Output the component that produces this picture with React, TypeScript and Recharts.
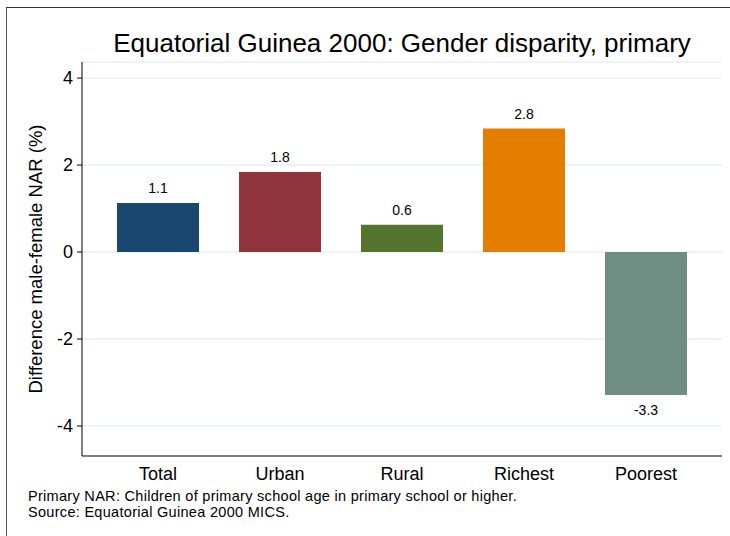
import React from "react";
import { BarChart, Bar, XAxis, YAxis, CartesianGrid, Cell, LabelList, Label } from "recharts";

const categories = ["Total", "Urban", "Rural", "Richest", "Poorest"];
const values = [1.13, 1.84, 0.63, 2.84, -3.29];
const labels = ["1.1", "1.8", "0.6", "2.8", "-3.3"];
const colors = ["#1a476f", "#90353b", "#55752f", "#e37e00", "#6e8e84"];
const yTicks = [-4, -2, 0, 2, 4];

const data = categories.map((c, i) => ({ name: c, value: values[i], label: labels[i] }));

const FONT = "Liberation Sans, Arial, sans-serif";

export default function App() {
  return (
    <div style={{ position: "absolute", left: 0, top: 0, width: 730, height: 536, background: "#fff", fontFamily: FONT }}>
      <div style={{ position: "absolute", left: 6, top: 7, width: 724, height: 529, borderTop: "1px solid #333", borderLeft: "1px solid #555" }} />
      <div style={{ position: "absolute", left: 82, width: 640, top: 27, textAlign: "center", fontSize: 26, lineHeight: "32px", color: "#000", whiteSpace: "nowrap" }}>
        Equatorial Guinea 2000: Gender disparity, primary
      </div>
      <BarChart
        width={730}
        height={536}
        data={data}
        margin={{ top: 62, right: 8, bottom: 40, left: 0 }}
        barSize={82}
        style={{ position: "absolute", left: 0, top: 0 }}
      >
        <CartesianGrid vertical={false} stroke="#e8eff2" strokeWidth={1.5} />
        <XAxis
          dataKey="name"
          axisLine={{ stroke: "#808080", strokeWidth: 2 }}
          tickLine={false}
          padding={{ left: 15, right: 15 }}
          height={40}
          tick={{ fill: "#000", fontSize: 18, fontFamily: FONT }}
          tickMargin={5}
          interval={0}
        />
        <YAxis
          domain={[-4.69, 4.37]}
          ticks={yTicks}
          width={82}
          axisLine={{ stroke: "#000", strokeWidth: 1 }}
          tickLine={{ stroke: "#000" }}
          tickSize={5}
          tickMargin={4}
          tick={{ fill: "#000", fontSize: 18, fontFamily: FONT }}
          allowDataOverflow
        >
          <Label
            value="Difference male-female NAR (%)"
            angle={-90}
            position="insideLeft"
            dx={30}
            style={{ textAnchor: "middle", fontSize: 18.5, fill: "#000", fontFamily: FONT }}
          />
        </YAxis>
        <Bar dataKey="value" isAnimationActive={false}>
          {data.map((d, i) => (
            <Cell key={d.name} fill={colors[i]} />
          ))}
          <LabelList dataKey="label" position="top" offset={10} style={{ fontSize: 14, fill: "#000", fontFamily: FONT }} />
        </Bar>
      </BarChart>
      <div style={{ position: "absolute", left: 28, top: 488, fontSize: 14.5, lineHeight: "16px", letterSpacing: "0.3px", color: "#000", whiteSpace: "nowrap" }}>
        <div>Primary NAR: Children of primary school age in primary school or higher.</div>
        <div>Source: Equatorial Guinea 2000 MICS.</div>
      </div>
    </div>
  );
}
